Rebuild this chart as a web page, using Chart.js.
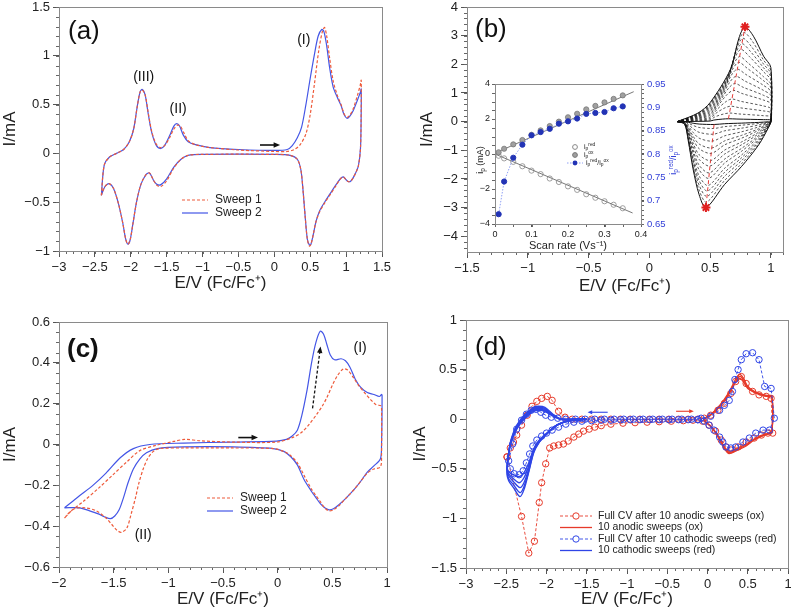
<!DOCTYPE html>
<html>
<head>
<meta charset="utf-8">
<script src="https://cdn.jsdelivr.net/npm/chart.js@4.4.1/dist/chart.umd.min.js"></script>
<style>
  html, body { margin: 0; padding: 0; background: #fff; width: 791px; height: 612px; overflow: hidden; position: relative; }
  canvas { position: absolute; }
</style>
</head>
<body>
<canvas id="pa"></canvas>
<canvas id="pb"></canvas>
<canvas id="pc"></canvas>
<canvas id="pd"></canvas>
<canvas id="pbi"></canvas>
<script>
// ---------- panel (a) ----------
const aTicksX = [-3, -2.5, -2, -1.5, -1, -0.5, 0, 0.5, 1, 1.5];
const aTicksY = [-1, -0.5, 0, 0.5, 1, 1.5];
const aLabels = ['Sweep 1', 'Sweep 2'];
const aSweep1 = [[-2.41,-0.43],[-2.37,-0.12],[-2.30,-0.04],[-2.20,0.0],[-2.10,0.04],[-2.02,0.12],[-1.96,0.25],[-1.91,0.48],[-1.87,0.63],[-1.84,0.65],[-1.80,0.60],[-1.76,0.43],[-1.71,0.23],[-1.65,0.10],[-1.59,0.06],[-1.53,0.08],[-1.46,0.16],[-1.40,0.25],[-1.35,0.29],[-1.31,0.28],[-1.26,0.21],[-1.20,0.13],[-1.10,0.09],[-0.90,0.06],[-0.50,0.035],[0.0,0.02],[0.18,0.02],[0.28,0.04],[0.36,0.09],[0.44,0.2],[0.50,0.4],[0.56,0.72],[0.62,1.06],[0.67,1.25],[0.70,1.29],[0.73,1.2],[0.77,0.98],[0.82,0.74],[0.88,0.59],[0.93,0.5],[0.97,0.41],[1.01,0.37],[1.05,0.39],[1.10,0.46],[1.16,0.6],[1.20,0.71],[1.21,0.75],[1.21,0.45],[1.20,0.05],[1.17,-0.13],[1.12,-0.22],[1.07,-0.28],[1.03,-0.29],[1.00,-0.27],[0.96,-0.24],[0.92,-0.26],[0.86,-0.33],[0.78,-0.42],[0.70,-0.51],[0.63,-0.60],[0.58,-0.70],[0.54,-0.84],[0.51,-0.93],[0.49,-0.95],[0.46,-0.88],[0.43,-0.65],[0.40,-0.38],[0.37,-0.17],[0.32,-0.06],[0.22,-0.02],[0.0,-0.01],[-1.00,-0.01],[-1.20,-0.02],[-1.30,-0.06],[-1.40,-0.15],[-1.50,-0.28],[-1.58,-0.34],[-1.63,-0.33],[-1.68,-0.28],[-1.74,-0.2],[-1.79,-0.22],[-1.86,-0.32],[-1.92,-0.5],[-1.97,-0.72],[-2.01,-0.89],[-2.04,-0.93],[-2.07,-0.88],[-2.11,-0.72],[-2.17,-0.52],[-2.24,-0.36],[-2.30,-0.31],[-2.35,-0.33],[-2.38,-0.37],[-2.41,-0.43]];
const aSweep2 = [[-2.41,-0.43],[-2.37,-0.12],[-2.30,-0.04],[-2.20,0.0],[-2.10,0.04],[-2.02,0.12],[-1.96,0.25],[-1.91,0.48],[-1.87,0.63],[-1.84,0.655],[-1.80,0.60],[-1.76,0.42],[-1.71,0.22],[-1.65,0.09],[-1.59,0.05],[-1.53,0.08],[-1.46,0.18],[-1.40,0.28],[-1.36,0.305],[-1.32,0.28],[-1.27,0.19],[-1.20,0.12],[-1.10,0.09],[-0.90,0.06],[-0.50,0.04],[0.0,0.03],[0.18,0.04],[0.25,0.08],[0.32,0.16],[0.38,0.27],[0.44,0.50],[0.50,0.77],[0.56,1.02],[0.61,1.2],[0.66,1.27],[0.69,1.25],[0.73,1.10],[0.77,0.88],[0.82,0.68],[0.88,0.57],[0.93,0.49],[0.97,0.40],[1.01,0.36],[1.05,0.38],[1.10,0.44],[1.16,0.55],[1.20,0.63],[1.21,0.66],[1.21,0.40],[1.20,0.05],[1.17,-0.13],[1.12,-0.22],[1.07,-0.28],[1.03,-0.29],[1.00,-0.27],[0.96,-0.24],[0.92,-0.26],[0.86,-0.32],[0.78,-0.41],[0.70,-0.5],[0.63,-0.59],[0.58,-0.70],[0.54,-0.84],[0.51,-0.93],[0.49,-0.94],[0.46,-0.88],[0.43,-0.65],[0.40,-0.38],[0.37,-0.17],[0.32,-0.06],[0.22,-0.02],[0.0,-0.01],[-1.00,-0.01],[-1.20,-0.02],[-1.30,-0.06],[-1.40,-0.14],[-1.50,-0.26],[-1.58,-0.32],[-1.63,-0.32],[-1.68,-0.28],[-1.74,-0.2],[-1.79,-0.22],[-1.86,-0.32],[-1.92,-0.5],[-1.97,-0.72],[-2.01,-0.89],[-2.04,-0.93],[-2.07,-0.88],[-2.11,-0.72],[-2.17,-0.52],[-2.24,-0.36],[-2.30,-0.31],[-2.35,-0.33],[-2.38,-0.37],[-2.41,-0.43]];

// ---------- panel (b): CVs at increasing scan rate ----------
const bTicksX = [-1.5, -1, -0.5, 0, 0.5, 1];
const bTicksY = [-4, -3, -2, -1, 0, 1, 2, 3, 4];
const bCv01 = [[0.23,0],[0.40,0.01],[0.50,0.02],[0.531,0.055],[0.601,0.088],[0.651,0.10],[0.721,0.09],[0.94,0.069],[1.0,0.057],[1.0,0],[0.98,-0.007],[0.90,-0.027],[0.76,-0.052],[0.62,-0.073],[0.533,-0.10],[0.41,-0.085],[0.36,-0.055],[0.32,-0.022],[0.29,-0.003],[0.23,0]];
const bCv02 = [[0.23,0],[0.40,0.027],[0.50,0.06],[0.54,0.165],[0.61,0.264],[0.66,0.30],[0.73,0.27],[0.94,0.207],[1.0,0.171],[1.0,0],[0.98,-0.017],[0.90,-0.065],[0.76,-0.125],[0.62,-0.175],[0.529,-0.24],[0.41,-0.204],[0.36,-0.132],[0.32,-0.053],[0.29,-0.007],[0.23,0]];
const bCv03 = [[0.23,0],[0.40,0.049],[0.50,0.108],[0.55,0.297],[0.62,0.475],[0.67,0.54],[0.74,0.486],[0.94,0.373],[1.0,0.308],[1.0,0],[0.98,-0.031],[0.90,-0.119],[0.76,-0.229],[0.62,-0.321],[0.525,-0.44],[0.41,-0.374],[0.36,-0.242],[0.32,-0.097],[0.29,-0.013],[0.23,0]];
const bCv04 = [[0.23,0],[0.40,0.071],[0.50,0.158],[0.56,0.435],[0.63,0.695],[0.68,0.79],[0.75,0.711],[0.94,0.545],[1.0,0.45],[1.0,0],[0.98,-0.048],[0.90,-0.184],[0.76,-0.354],[0.62,-0.496],[0.519,-0.68],[0.41,-0.578],[0.36,-0.374],[0.32,-0.15],[0.29,-0.02],[0.23,0]];
const bCv05 = [[0.23,0],[0.40,0.098],[0.50,0.218],[0.573,0.60],[0.643,0.959],[0.693,1.09],[0.763,0.981],[0.94,0.752],[1.0,0.621],[1.0,0],[0.98,-0.064],[0.90,-0.248],[0.76,-0.478],[0.62,-0.672],[0.514,-0.92],[0.41,-0.782],[0.36,-0.506],[0.32,-0.202],[0.29,-0.028],[0.23,0]];
const bCv06 = [[0.23,0],[0.40,0.12],[0.50,0.266],[0.583,0.732],[0.653,1.17],[0.703,1.33],[0.773,1.197],[0.94,0.918],[1.0,0.758],[1.0,0],[0.98,-0.078],[0.90,-0.30],[0.76,-0.577],[0.62,-0.81],[0.509,-1.11],[0.41,-0.944],[0.36,-0.611],[0.32,-0.244],[0.29,-0.033],[0.23,0]];
const bCv07 = [[0.23,0],[0.40,0.142],[0.50,0.316],[0.594,0.869],[0.664,1.39],[0.714,1.58],[0.784,1.422],[0.94,1.09],[1.0,0.90],[1.0,0],[0.98,-0.095],[0.90,-0.367],[0.76,-0.707],[0.62,-0.993],[0.504,-1.36],[0.41,-1.156],[0.36,-0.748],[0.32,-0.299],[0.29,-0.041],[0.23,0]];
const bCv08 = [[0.23,0],[0.40,0.165],[0.50,0.366],[0.604,1.007],[0.674,1.61],[0.724,1.83],[0.794,1.647],[0.94,1.263],[1.0,1.043],[1.0,0],[0.98,-0.109],[0.90,-0.419],[0.76,-0.806],[0.62,-1.132],[0.499,-1.55],[0.41,-1.318],[0.36,-0.853],[0.32,-0.341],[0.29,-0.047],[0.23,0]];
const bCv09 = [[0.23,0],[0.40,0.186],[0.50,0.414],[0.615,1.139],[0.685,1.822],[0.735,2.07],[0.805,1.863],[0.94,1.428],[1.0,1.18],[1.0,0],[0.98,-0.125],[0.90,-0.483],[0.76,-0.931],[0.62,-1.307],[0.494,-1.79],[0.41,-1.522],[0.36,-0.985],[0.32,-0.394],[0.29,-0.054],[0.23,0]];
const bCv10 = [[0.23,0],[0.40,0.204],[0.50,0.454],[0.623,1.249],[0.693,1.998],[0.743,2.27],[0.813,2.043],[0.94,1.566],[1.0,1.294],[1.0,0],[0.98,-0.139],[0.90,-0.535],[0.76,-1.03],[0.62,-1.445],[0.489,-1.98],[0.41,-1.683],[0.36,-1.089],[0.32,-0.436],[0.29,-0.059],[0.23,0]];
const bCv11 = [[0.23,0],[0.40,0.227],[0.50,0.504],[0.634,1.386],[0.704,2.218],[0.754,2.52],[0.824,2.268],[0.94,1.739],[1.0,1.436],[1.0,0],[0.98,-0.156],[0.90,-0.602],[0.76,-1.16],[0.62,-1.628],[0.484,-2.23],[0.41,-1.896],[0.36,-1.227],[0.32,-0.491],[0.29,-0.067],[0.23,0]];
const bCv12 = [[0.23,0],[0.40,0.245],[0.50,0.544],[0.642,1.496],[0.712,2.394],[0.762,2.72],[0.832,2.448],[0.94,1.877],[1.0,1.55],[1.0,0],[0.98,-0.169],[0.90,-0.653],[0.76,-1.258],[0.62,-1.767],[0.479,-2.42],[0.41,-2.057],[0.36,-1.331],[0.32,-0.532],[0.29,-0.073],[0.23,0]];
const bCv13 = [[0.23,0],[0.40,0.262],[0.50,0.582],[0.65,1.60],[0.72,2.561],[0.77,2.91],[0.84,2.619],[0.94,2.008],[1.0,1.659],[1.0,0],[0.98,-0.183],[0.90,-0.705],[0.76,-1.357],[0.62,-1.905],[0.475,-2.61],[0.41,-2.219],[0.36,-1.436],[0.32,-0.574],[0.29,-0.078],[0.23,0]];
const bCv14 = [[0.23,0],[0.40,0.28],[0.50,0.622],[0.659,1.711],[0.729,2.737],[0.779,3.11],[0.849,2.799],[0.94,2.146],[1.0,1.773],[1.0,0],[0.98,-0.197],[0.90,-0.759],[0.76,-1.461],[0.62,-2.051],[0.47,-2.81],[0.41,-2.389],[0.36,-1.546],[0.32,-0.618],[0.29,-0.084],[0.23,0]];
const bCv15 = [[0.23,0],[0.40,0.298],[0.50,0.662],[0.667,1.821],[0.737,2.913],[0.787,3.31],[0.857,2.979],[0.94,2.284],[1.0,1.887],[1.0,0],[0.98,-0.21],[0.90,-0.81],[0.76,-1.56],[0.62,-2.19],[0.466,-3.0],[0.41,-2.55],[0.36,-1.65],[0.32,-0.66],[0.29,-0.09],[0.23,0]];
const bPeakOx = [[0.651,0.10],[0.66,0.30],[0.67,0.54],[0.68,0.79],[0.693,1.09],[0.703,1.33],[0.714,1.58],[0.724,1.83],[0.735,2.07],[0.743,2.27],[0.754,2.52],[0.762,2.72],[0.77,2.91],[0.779,3.11],[0.787,3.31]];
const bPeakRed = [[0.533,-0.10],[0.529,-0.24],[0.525,-0.44],[0.519,-0.68],[0.514,-0.92],[0.509,-1.11],[0.504,-1.36],[0.499,-1.55],[0.494,-1.79],[0.489,-1.98],[0.484,-2.23],[0.479,-2.42],[0.475,-2.61],[0.47,-2.81],[0.466,-3.0]];
const bStars = [[0.787,3.31],[0.466,-3.0]];

// inset of (b): peak currents vs scan rate
const bScanRate = [0.01,0.025,0.05,0.075,0.1,0.125,0.15,0.175,0.2,0.225,0.25,0.275,0.3,0.325,0.35];
const bIpOx = [0.1,0.3,0.55,0.8,1.1,1.35,1.6,1.85,2.1,2.3,2.55,2.75,2.95,3.15,3.35];
const bIpRed = [-0.1,-0.25,-0.45,-0.7,-0.95,-1.15,-1.4,-1.6,-1.85,-2.05,-2.3,-2.5,-2.7,-2.9,-3.1];
const bRatio = [0.671,0.741,0.792,0.82,0.84,0.847,0.854,0.865,0.87,0.876,0.886,0.888,0.89,0.898,0.902];
const bFitOx = [[0,0.05],[0.38,3.56]];
const bFitRed = [[0,0],[0.377,-3.37]];
const biTicksX = [0, 0.1, 0.2, 0.3, 0.4];
const biTicksY = [-4, -2, 0, 2, 4];
const biTicksY2 = [0.65, 0.7, 0.75, 0.8, 0.85, 0.9, 0.95];

// ---------- panel (c) ----------
const cTicksX = [-2, -1.5, -1, -0.5, 0, 0.5, 1];
const cTicksY = [-0.6, -0.4, -0.2, 0, 0.2, 0.4, 0.6];
const cLabels = ['Sweep 1', 'Sweep 2'];
const cSweep1 = [[-1.95,-0.36],[-1.90,-0.33],[-1.78,-0.28],[-1.63,-0.21],[-1.51,-0.15],[-1.38,-0.085],[-1.26,-0.03],[-1.11,-0.004],[-0.95,0.015],[-0.85,0.025],[-0.70,0.018],[-0.41,0.012],[-0.01,0.012],[0.14,0.035],[0.22,0.06],[0.29,0.10],[0.36,0.15],[0.41,0.19],[0.45,0.23],[0.50,0.29],[0.55,0.34],[0.60,0.37],[0.64,0.365],[0.69,0.33],[0.74,0.29],[0.80,0.25],[0.85,0.22],[0.90,0.195],[0.945,0.19],[0.95,0.18],[0.95,-0.05],[0.94,-0.11],[0.88,-0.12],[0.82,-0.14],[0.76,-0.18],[0.70,-0.22],[0.63,-0.26],[0.56,-0.30],[0.51,-0.32],[0.47,-0.325],[0.43,-0.31],[0.39,-0.28],[0.35,-0.25],[0.31,-0.22],[0.24,-0.15],[0.18,-0.09],[0.12,-0.055],[0.06,-0.035],[-0.04,-0.02],[-0.41,-0.017],[-0.86,-0.017],[-1.08,-0.02],[-1.14,-0.035],[-1.19,-0.07],[-1.23,-0.12],[-1.27,-0.19],[-1.30,-0.26],[-1.34,-0.34],[-1.38,-0.41],[-1.43,-0.43],[-1.47,-0.42],[-1.52,-0.39],[-1.57,-0.36],[-1.66,-0.325],[-1.76,-0.31],[-1.86,-0.315],[-1.95,-0.36]];
const cSweep2 = [[-1.95,-0.31],[-1.88,-0.28],[-1.81,-0.25],[-1.69,-0.20],[-1.57,-0.14],[-1.44,-0.065],[-1.32,-0.02],[-1.17,0.0],[-0.86,0.007],[-0.41,0.012],[-0.01,0.017],[0.08,0.025],[0.13,0.04],[0.18,0.07],[0.22,0.14],[0.27,0.27],[0.31,0.40],[0.35,0.50],[0.39,0.555],[0.42,0.54],[0.45,0.49],[0.48,0.44],[0.52,0.415],[0.58,0.42],[0.62,0.41],[0.66,0.38],[0.71,0.32],[0.76,0.28],[0.82,0.255],[0.88,0.245],[0.93,0.235],[0.95,0.245],[0.955,0.24],[0.95,0.0],[0.94,-0.07],[0.88,-0.105],[0.82,-0.135],[0.76,-0.18],[0.70,-0.22],[0.63,-0.26],[0.56,-0.295],[0.51,-0.315],[0.47,-0.32],[0.43,-0.31],[0.39,-0.29],[0.35,-0.26],[0.31,-0.23],[0.24,-0.17],[0.18,-0.10],[0.12,-0.06],[0.06,-0.035],[-0.04,-0.02],[-0.41,-0.012],[-0.86,-0.012],[-1.10,-0.02],[-1.20,-0.04],[-1.26,-0.07],[-1.32,-0.12],[-1.37,-0.19],[-1.41,-0.26],[-1.45,-0.32],[-1.49,-0.35],[-1.53,-0.363],[-1.58,-0.355],[-1.64,-0.34],[-1.72,-0.325],[-1.81,-0.31],[-1.95,-0.31]];

// ---------- panel (d) ----------
const dTicksX = [-3, -2.5, -2, -1.5, -1, -0.5, 0, 0.5, 1];
const dTicksY = [-1.5, -1, -0.5, 0, 0.5, 1];
const dLabels = ['Full CV after 10 anodic sweeps (ox)', '10 anodic sweeps (ox)', 'Full CV after 10 cathodic sweeps (red)', '10 cathodic sweeps (red)'];
const dFullOx = [[-2.49,-0.38],[-2.45,-0.29],[-2.41,-0.23],[-2.37,-0.16],[-2.31,-0.06],[-2.24,0.04],[-2.18,0.13],[-2.12,0.18],[-2.06,0.21],[-1.99,0.23],[-1.93,0.19],[-1.85,0.08],[-1.77,0.02],[-1.68,0.0],[-1.56,0.0],[-1.44,0.0],[-1.32,0.0],[-1.2,0.0],[-1.08,0.0],[-0.96,0.0],[-0.84,0.0],[-0.72,0.0],[-0.6,0.0],[-0.48,0.0],[-0.36,0.0],[-0.24,0.0],[-0.12,0.0],[-0.04,0.01],[0.04,0.04],[0.13,0.09],[0.21,0.16],[0.29,0.26],[0.35,0.38],[0.42,0.43],[0.48,0.36],[0.56,0.28],[0.64,0.245],[0.73,0.23],[0.79,0.21],[0.81,-0.14],[0.75,-0.14],[0.67,-0.16],[0.58,-0.19],[0.48,-0.23],[0.38,-0.28],[0.29,-0.31],[0.23,-0.28],[0.17,-0.21],[0.10,-0.12],[0.02,-0.06],[-0.06,-0.02],[-0.18,-0.01],[-0.3,-0.015],[-0.45,-0.02],[-0.6,-0.025],[-0.75,-0.03],[-0.9,-0.035],[-1.05,-0.04],[-1.2,-0.05],[-1.32,-0.065],[-1.40,-0.08],[-1.47,-0.1],[-1.54,-0.12],[-1.60,-0.15],[-1.66,-0.18],[-1.73,-0.22],[-1.79,-0.25],[-1.85,-0.26],[-1.91,-0.27],[-1.96,-0.29],[-2.01,-0.45],[-2.06,-0.64],[-2.09,-0.84],[-2.15,-1.23],[-2.22,-1.35],[-2.31,-0.98],[-2.49,-0.38]];
const dFullRed = [[-0.12,-0.005],[-0.24,-0.005],[-0.36,-0.005],[-0.48,-0.005],[-0.6,-0.005],[-0.72,-0.005],[-0.84,-0.005],[-0.96,-0.005],[-1.08,-0.005],[-1.2,-0.01],[-1.32,-0.01],[-1.44,-0.015],[-1.56,-0.02],[-1.66,-0.03],[-1.76,-0.05],[-1.85,-0.08],[-1.93,-0.11],[-2.0,-0.14],[-2.06,-0.17],[-2.12,-0.21],[-2.17,-0.27],[-2.21,-0.35],[-2.25,-0.44],[-2.29,-0.52],[-2.34,-0.56],[-2.40,-0.55],[-2.45,-0.50],[-2.47,-0.42],[-2.42,-0.25],[-2.37,-0.1],[-2.31,-0.01],[-2.25,0.05],[-2.19,0.09],[-2.13,0.1],[-2.07,0.07],[-2.01,0.04],[-1.94,0.02],[-1.86,0.01],[-1.76,0.0],[-1.64,0.0],[-1.52,0.0],[-1.40,0.0],[-1.28,0.0],[-1.16,0.0],[-1.04,0.0],[-0.92,0.0],[-0.80,0.0],[-0.68,0.0],[-0.56,0.0],[-0.44,0.0],[-0.32,0.0],[-0.2,0.0],[-0.08,0.01],[0.04,0.03],[0.15,0.09],[0.21,0.14],[0.27,0.19],[0.31,0.28],[0.34,0.40],[0.38,0.50],[0.42,0.60],[0.48,0.66],[0.56,0.67],[0.64,0.60],[0.71,0.33],[0.79,0.31],[0.83,0.01],[0.77,-0.11],[0.69,-0.11],[0.60,-0.14],[0.52,-0.19],[0.44,-0.23],[0.35,-0.28],[0.29,-0.29],[0.23,-0.28],[0.19,-0.23],[0.15,-0.18],[0.08,-0.11],[0.02,-0.06],[-0.04,-0.02],[-0.12,-0.005]];
const dAnodic1 = [[-0.05,0.0],[0.05,0.05],[0.12,0.1],[0.2,0.17],[0.28,0.27],[0.34,0.36],[0.38,0.40],[0.41,0.41],[0.45,0.37],[0.5,0.31],[0.58,0.27],[0.66,0.245],[0.74,0.23],[0.80,0.22],[0.80,-0.12],[0.76,-0.14],[0.68,-0.16],[0.58,-0.2],[0.48,-0.25],[0.38,-0.29],[0.3,-0.32],[0.26,-0.32],[0.22,-0.29],[0.17,-0.22],[0.11,-0.14],[0.04,-0.07],[-0.02,-0.03],[-0.05,0.0]];
const dAnodic2 = [[-0.05,0.0],[0.05,0.05],[0.12,0.1],[0.2,0.18],[0.28,0.28],[0.34,0.37],[0.38,0.42],[0.41,0.43],[0.45,0.39],[0.5,0.32],[0.58,0.275],[0.66,0.25],[0.74,0.235],[0.80,0.225],[0.80,-0.13],[0.76,-0.145],[0.68,-0.165],[0.58,-0.205],[0.48,-0.26],[0.38,-0.30],[0.3,-0.33],[0.26,-0.335],[0.22,-0.30],[0.17,-0.23],[0.11,-0.145],[0.04,-0.07],[-0.02,-0.03],[-0.05,0.0]];
const dAnodic3 = [[-0.05,0.0],[0.05,0.055],[0.12,0.11],[0.2,0.19],[0.28,0.29],[0.34,0.39],[0.38,0.44],[0.41,0.45],[0.45,0.41],[0.5,0.33],[0.58,0.28],[0.66,0.255],[0.74,0.24],[0.80,0.23],[0.80,-0.14],[0.76,-0.15],[0.68,-0.17],[0.58,-0.21],[0.48,-0.27],[0.38,-0.31],[0.3,-0.34],[0.26,-0.345],[0.22,-0.31],[0.17,-0.24],[0.11,-0.15],[0.04,-0.075],[-0.02,-0.03],[-0.05,0.0]];
const dCathodic1 = [[-1.5,0.0],[-1.65,-0.01],[-1.77,-0.025],[-1.89,-0.07],[-2.01,-0.15],[-2.10,-0.22],[-2.16,-0.30],[-2.22,-0.44],[-2.28,-0.54],[-2.34,-0.58],[-2.41,-0.56],[-2.47,-0.53],[-2.49,-0.48],[-2.46,-0.30],[-2.40,-0.15],[-2.32,-0.04],[-2.24,0.03],[-2.16,0.08],[-2.10,0.09],[-2.02,0.08],[-1.92,0.03],[-1.82,0.0],[-1.65,0.0],[-1.5,0.0]];
const dCathodic2 = [[-1.5,0.0],[-1.65,-0.01],[-1.77,-0.025],[-1.89,-0.07],[-2.01,-0.155],[-2.10,-0.23],[-2.16,-0.31],[-2.22,-0.47],[-2.28,-0.59],[-2.34,-0.64],[-2.41,-0.60],[-2.47,-0.55],[-2.49,-0.50],[-2.46,-0.30],[-2.40,-0.14],[-2.32,-0.03],[-2.24,0.04],[-2.16,0.09],[-2.10,0.10],[-2.02,0.09],[-1.92,0.035],[-1.82,0.0],[-1.65,0.0],[-1.5,0.0]];
const dCathodic3 = [[-1.5,0.0],[-1.65,-0.01],[-1.77,-0.025],[-1.89,-0.07],[-2.01,-0.16],[-2.10,-0.235],[-2.16,-0.32],[-2.22,-0.50],[-2.28,-0.64],[-2.33,-0.69],[-2.41,-0.63],[-2.47,-0.57],[-2.49,-0.51],[-2.46,-0.29],[-2.40,-0.13],[-2.32,-0.02],[-2.24,0.05],[-2.16,0.10],[-2.10,0.11],[-2.02,0.10],[-1.92,0.04],[-1.82,0.0],[-1.65,0.0],[-1.5,0.0]];
const dCathodic4 = [[-1.5,0.0],[-1.65,-0.01],[-1.77,-0.025],[-1.89,-0.07],[-2.01,-0.16],[-2.10,-0.24],[-2.16,-0.33],[-2.22,-0.52],[-2.28,-0.68],[-2.33,-0.74],[-2.41,-0.66],[-2.47,-0.60],[-2.49,-0.53],[-2.46,-0.29],[-2.40,-0.12],[-2.32,-0.01],[-2.24,0.06],[-2.16,0.11],[-2.10,0.12],[-2.02,0.11],[-1.92,0.045],[-1.82,0.0],[-1.65,0.0],[-1.5,0.0]];
const dCathodic5 = [[-1.5,0.0],[-1.65,-0.01],[-1.77,-0.025],[-1.89,-0.07],[-2.01,-0.16],[-2.10,-0.245],[-2.16,-0.34],[-2.22,-0.53],[-2.28,-0.71],[-2.33,-0.78],[-2.41,-0.69],[-2.47,-0.62],[-2.49,-0.55],[-2.46,-0.28],[-2.40,-0.11],[-2.32,0.0],[-2.24,0.07],[-2.16,0.12],[-2.10,0.13],[-2.02,0.12],[-1.92,0.05],[-1.82,0.0],[-1.65,0.0],[-1.5,0.0]];

// ---------- helpers ----------
const FONT = '"Liberation Sans", Arial, Helvetica, sans-serif';
const RED = '#ee5a3a', BLUE = '#4456e6', DRED = '#e63a2a', DBLUE = '#2f45e6';
const pts = a => a.map(([x, y]) => ({ x, y }));
const fmt = v => (v < 0 ? '\u2212' : '') + Math.abs(+v.toFixed(3));

function line(arr, color, extra) {
  return Object.assign({
    data: pts(arr), showLine: true, borderColor: color, backgroundColor: color,
    borderWidth: 1.2, pointRadius: 0, tension: 0.3, fill: false
  }, extra || {});
}

function circles(arr, color) {
  return line(arr, color, {
    borderWidth: 0.9, borderDash: [3, 2], tension: 0,
    pointRadius: 3.2, pointBackgroundColor: 'rgba(255,255,255,0)',
    pointBorderColor: color, pointBorderWidth: 1
  });
}

function axis(o) {
  return {
    type: 'linear', position: o.pos, min: o.min, max: o.max,
    afterBuildTicks: s => { s.ticks = o.ticks.map(v => ({ value: v })); },
    afterFit: s => { if (s.isHorizontal()) s.height = o.size; else s.width = o.size; },
    grid: { drawOnChartArea: false, drawTicks: true, tickLength: o.tl || 6, tickColor: '#555', tickWidth: 1 },
    border: { display: true, color: '#888', width: 1 },
    ticks: {
      color: o.color || '#222', font: { family: FONT, size: o.fs || 13 }, padding: o.pad == null ? 3 : o.pad,
      maxRotation: 0, autoSkip: false, callback: v => fmt(v)
    },
    title: {
      display: !!o.title, text: o.title, color: '#222',
      font: { family: FONT, size: o.tfs || 17 }, padding: { top: o.tp || 0, bottom: o.tp || 0 }
    }
  };
}

// short minor ticks between the labelled ones
function minorTicks(steps) {
  return {
    id: 'minorTicks',
    afterDraw(chart) {
      const ctx = chart.ctx;
      ctx.save();
      ctx.strokeStyle = '#666';
      ctx.lineWidth = 1;
      for (const id in steps) {
        const s = chart.scales[id], st = steps[id];
        const n0 = Math.ceil(s.min / st - 1e-6), n1 = Math.floor(s.max / st + 1e-6);
        for (let n = n0; n <= n1; n++) {
          const p = Math.round(s.getPixelForValue(n * st)) + 0.5;
          ctx.beginPath();
          if (s.position === 'bottom') { ctx.moveTo(p, s.top); ctx.lineTo(p, s.top + 3); }
          else if (s.position === 'left') { ctx.moveTo(s.right, p); ctx.lineTo(s.right - 3, p); }
          else { ctx.moveTo(s.left, p); ctx.lineTo(s.left + 3, p); }
          ctx.stroke();
        }
      }
      ctx.restore();
    }
  };
}

function drawRich(ctx, parts, x, y, size, color, align, rot, bold) {
  ctx.save();
  ctx.translate(x, y);
  if (rot) ctx.rotate(rot);
  ctx.fillStyle = color;
  ctx.textBaseline = 'middle';
  ctx.textAlign = 'left';
  const fontOf = k => (bold ? 'bold ' : '') + (k === 'n' ? size : size * 0.7) + 'px ' + FONT;
  let w = 0;
  parts.forEach(([t, k]) => { ctx.font = fontOf(k); w += ctx.measureText(t).width; });
  let cx = align === 'left' ? 0 : -w / 2;
  parts.forEach(([t, k]) => {
    ctx.font = fontOf(k);
    const dy = k === 'sub' ? size * 0.3 : (k === 'sup' ? -size * 0.35 : 0);
    ctx.fillText(t, cx, dy);
    cx += ctx.measureText(t).width;
  });
  ctx.restore();
}

// frame, arrows, labels and hand-placed legends
function marks(spec) {
  return {
    id: 'marks',
    afterDraw(chart) {
      const { ctx, chartArea: ca, scales } = chart;
      const xs = scales.x, ys = scales.y;
      const P = p => p.data ? [xs.getPixelForValue(p.data[0]), ys.getPixelForValue(p.data[1])]
                            : [ca.left + p.at[0], ca.top + p.at[1]];
      ctx.save();
      ctx.strokeStyle = '#8a8a8a';
      ctx.lineWidth = 1;
      ctx.strokeRect(Math.round(ca.left) + 0.5, Math.round(ca.top) + 0.5,
                     Math.round(ca.right - ca.left), Math.round(ca.bottom - ca.top));
      (spec.arrows || []).forEach(a => {
        const [x0, y0] = P({ data: a.from }), [x1, y1] = P({ data: a.to });
        const ang = Math.atan2(y1 - y0, x1 - x0), h = a.head || 7;
        ctx.strokeStyle = a.color; ctx.fillStyle = a.color; ctx.lineWidth = a.width || 1.4;
        ctx.setLineDash(a.dash || []);
        ctx.beginPath(); ctx.moveTo(x0, y0);
        ctx.lineTo(x1 - h * 0.8 * Math.cos(ang), y1 - h * 0.8 * Math.sin(ang)); ctx.stroke();
        ctx.setLineDash([]);
        ctx.beginPath(); ctx.moveTo(x1, y1);
        ctx.lineTo(x1 - h * Math.cos(ang - 0.4), y1 - h * Math.sin(ang - 0.4));
        ctx.lineTo(x1 - h * Math.cos(ang + 0.4), y1 - h * Math.sin(ang + 0.4));
        ctx.closePath(); ctx.fill();
      });
      (spec.legend || []).forEach(l => {
        const [x, y] = P(l);
        ctx.strokeStyle = l.color; ctx.lineWidth = l.width || 1.2;
        ctx.setLineDash(l.dash || []);
        ctx.beginPath(); ctx.moveTo(x, y); ctx.lineTo(x + l.len, y); ctx.stroke();
        ctx.setLineDash([]);
        if (l.marker) {
          ctx.beginPath(); ctx.arc(x + l.len / 2, y, l.r || 3.2, 0, Math.PI * 2);
          ctx.fillStyle = l.fill || '#fff'; ctx.fill(); ctx.lineWidth = 1; ctx.stroke();
        }
        drawRich(ctx, l.parts || [[l.text, 'n']], x + l.len + (l.gap || 7), y, l.size, '#222', 'left');
      });
      (spec.texts || []).forEach(t => {
        const [x, y] = P(t);
        drawRich(ctx, t.parts || [[t.text, 'n']], x, y, t.size || 14, t.color || '#111',
                 t.align || 'center', t.rot || 0, t.bold);
      });
      ctx.restore();
    }
  };
}

function makeChart(id, box, datasets, scales, steps, spec) {
  const cv = document.getElementById(id);
  cv.width = box.w; cv.height = box.h;
  cv.style.left = box.l + 'px'; cv.style.top = box.t + 'px';
  return new Chart(cv, {
    type: 'scatter',
    data: { datasets },
    options: {
      responsive: false, animation: false, events: [],
      layout: { padding: { top: box.pt, right: box.pr, left: 0, bottom: 0 } },
      scales,
      plugins: { legend: { display: false }, tooltip: { enabled: false } }
    },
    plugins: [minorTicks(steps), marks(spec)]
  });
}

const EV = 'E/V (Fc/Fc\u207A)';

// ---------- (a) ----------
makeChart('pa', { l: 0, t: -13, w: 402, h: 313, pt: 20, pr: 20 },
  [line(aSweep1, RED, { borderDash: [3, 2] }), line(aSweep2, BLUE)],
  {
    x: axis({ pos: 'bottom', min: -3, max: 1.5, ticks: aTicksX, size: 49, title: EV, tp: 6 }),
    y: axis({ pos: 'left', min: -1, max: 1.5, ticks: aTicksY, size: 59, title: 'I/mA', tp: 0 })
  },
  { x: 0.1, y: 0.1 },
  {
    arrows: [{ from: [-0.2, 0.086], to: [0.08, 0.086], color: '#111', width: 1.6 }],
    legend: [
      { at: [123, 193], len: 26, color: RED, dash: [3, 2], text: aLabels[0], size: 12 },
      { at: [123, 206], len: 26, color: BLUE, text: aLabels[1], size: 12 }
    ],
    texts: [
      { data: [-1.82, 0.78], text: '(III)' },
      { data: [-1.34, 0.455], text: '(II)' },
      { data: [0.41, 1.16], text: '(I)' },
      { at: [9, 25], text: '(a)', size: 26, align: 'left' }
    ]
  });

// ---------- (b) ----------
const bLoops = [bCv01, bCv02, bCv03, bCv04, bCv05, bCv06, bCv07, bCv08, bCv09, bCv10, bCv11, bCv12, bCv13, bCv14, bCv15];
const bSets = [
  { data: pts(bStars), showLine: false, pointStyle: 'star', pointRadius: 4.5, pointBorderColor: '#e02020', pointBorderWidth: 2 },
  line(bPeakOx, '#e53935', { borderDash: [4, 3], borderWidth: 1, tension: 0 }),
  line(bPeakRed, '#e53935', { borderDash: [4, 3], borderWidth: 1, tension: 0 })
];
bLoops.forEach((lp, i) => {
  const solid = i === 0 || i === bLoops.length - 1;
  bSets.push(line(lp, '#111', { borderWidth: solid ? 1 : 0.7, borderDash: solid ? [] : [2.5, 2], tension: 0.3 }));
});
makeChart('pb', { l: 410, t: -13, w: 393, h: 313, pt: 20, pr: 20 }, bSets,
  {
    x: axis({ pos: 'bottom', min: -1.5, max: 1.1, ticks: bTicksX, size: 48, title: EV, tp: 3 }),
    y: axis({ pos: 'left', min: -4.55, max: 4, ticks: bTicksY, size: 57, title: 'I/mA', tp: 7 })
  },
  { x: 0.1, y: 0.2 },
  { texts: [{ at: [8, 23], text: '(b)', size: 26, align: 'left' }] });

// inset
const cvI = document.getElementById('pbi');
cvI.width = 230; cvI.height = 190;
cvI.style.left = '460px'; cvI.style.top = '70px';
const insetX = axis({ pos: 'bottom', min: 0, max: 0.4, ticks: biTicksX, size: 36, title: 'Scan rate (Vs\u207B\u00B9)', tfs: 11, tp: 7, fs: 9, tl: 3, pad: 2 });
const insetY = axis({ pos: 'left', min: -4, max: 4, ticks: biTicksY, size: 35, fs: 9, tl: 3, pad: 2 });
const insetY2 = axis({ pos: 'right', min: 0.65, max: 0.95, ticks: biTicksY2, size: 49, fs: 9.5, tl: 3, pad: 3, color: '#3340d8' });
insetY2.border.color = '#888';
new Chart(cvI, {
  type: 'scatter',
  data: {
    datasets: [
      { data: bScanRate.map((v, i) => ({ x: v, y: bRatio[i] })), yAxisID: 'y2', showLine: true,
        borderColor: '#8fa0f5', borderDash: [1.5, 1.5], borderWidth: 1, tension: 0,
        pointRadius: 2.6, pointBackgroundColor: '#2233b5', pointBorderColor: '#2233b5' },
      { data: bScanRate.map((v, i) => ({ x: v, y: bIpOx[i] })), showLine: false,
        pointRadius: 2.6, pointBackgroundColor: '#a0a0a0', pointBorderColor: '#777', pointBorderWidth: 0.8 },
      { data: bScanRate.map((v, i) => ({ x: v, y: bIpRed[i] })), showLine: false,
        pointRadius: 2.6, pointBackgroundColor: 'rgba(255,255,255,0)', pointBorderColor: '#888', pointBorderWidth: 0.8 },
      line(bFitOx, '#555', { borderWidth: 0.8, tension: 0 }),
      line(bFitRed, '#555', { borderWidth: 0.8, tension: 0 })
    ]
  },
  options: {
    responsive: false, animation: false, events: [],
    layout: { padding: { top: 14, right: 0, left: 0, bottom: 0 } },
    scales: { x: insetX, y: insetY, y2: insetY2 },
    plugins: { legend: { display: false }, tooltip: { enabled: false } }
  },
  plugins: [minorTicks({ x: 0.05, y: 0.5, y2: 0.01 }), marks({
    legend: [
      { at: [76, 63], len: 8, color: '#888', marker: true, r: 2.4, parts: [['i', 'n'], ['p', 'sub'], ['red', 'sup']], size: 7, gap: 5, width: 0.01 },
      { at: [76, 71], len: 8, color: '#777', marker: true, r: 2.4, fill: '#a0a0a0', parts: [['i', 'n'], ['p', 'sub'], ['ox', 'sup']], size: 7, gap: 5, width: 0.01 },
      { at: [72, 79], len: 16, color: '#8fa0f5', dash: [1.5, 1.5], width: 1, parts: [['i', 'n'], ['p', 'sub'], ['red', 'sup'], ['/i', 'n'], ['p', 'sub'], ['ox', 'sup']], size: 7, gap: 3 }
    ],
    texts: [
      { at: [-14, 76], parts: [['i', 'n'], ['p', 'sub'], [' (mA)', 'n']], size: 9, rot: -Math.PI / 2, color: '#222' },
      { at: [179, 76], parts: [['i', 'n'], ['p', 'sub'], ['red', 'sup'], ['/i', 'n'], ['p', 'sub'], ['ox', 'sup']], size: 9, rot: -Math.PI / 2, color: '#3340d8' }
    ]
  }), {
    id: 'ratioDot',
    afterDraw(chart) {
      const { ctx, chartArea: ca } = chart;
      ctx.save(); ctx.fillStyle = '#2233b5';
      ctx.beginPath(); ctx.arc(ca.left + 80, ca.top + 79, 2.4, 0, Math.PI * 2); ctx.fill();
      ctx.restore();
    }
  }]
});

// ---------- (c) ----------
makeChart('pc', { l: 0, t: 300, w: 407, h: 312, pt: 22, pr: 20 },
  [line(cSweep1, RED, { borderDash: [3, 2] }), line(cSweep2, BLUE)],
  {
    x: axis({ pos: 'bottom', min: -2, max: 1, ticks: cTicksX, size: 45, title: EV, tp: 2 }),
    y: axis({ pos: 'left', min: -0.6, max: 0.6, ticks: cTicksY, size: 59, title: 'I/mA', tp: 0 })
  },
  { x: 0.1, y: 0.05 },
  {
    arrows: [
      { from: [-0.36, 0.034], to: [-0.18, 0.034], color: '#111', width: 1.6 },
      { from: [0.319, 0.177], to: [0.392, 0.48], color: '#111', width: 1.3, dash: [3, 2] }
    ],
    legend: [
      { at: [148, 176], len: 26, color: RED, dash: [3, 2], text: cLabels[0], size: 12 },
      { at: [148, 189], len: 26, color: BLUE, text: cLabels[1], size: 12 }
    ],
    texts: [
      { data: [0.754, 0.471], text: '(I)' },
      { data: [-1.23, -0.445], text: '(II)' },
      { at: [8, 28], text: '(c)', size: 26, align: 'left', bold: true }
    ]
  });

// ---------- (d) ----------
const dSets = [
  line(dCathodic5, DBLUE, { borderWidth: 1.4 }),
  line(dCathodic4, DBLUE, { borderWidth: 1.4 }),
  line(dCathodic3, DBLUE, { borderWidth: 1.4 }),
  line(dCathodic2, DBLUE, { borderWidth: 1.4 }),
  line(dCathodic1, DBLUE, { borderWidth: 1.4 }),
  circles(dFullRed, DBLUE),
  line(dAnodic3, DRED, { borderWidth: 1.3 }),
  line(dAnodic2, DRED, { borderWidth: 1.3 }),
  line(dAnodic1, DRED, { borderWidth: 1.3 }),
  circles(dFullOx, DRED)
];
makeChart('pd', { l: 410, t: 300, w: 398, h: 312, pt: 20, pr: 20 }, dSets,
  {
    x: axis({ pos: 'bottom', min: -3, max: 1, ticks: dTicksX, size: 44, title: EV, tp: 2 }),
    y: axis({ pos: 'left', min: -1.5, max: 1, ticks: dTicksY, size: 56, title: 'I/mA', tp: 0 })
  },
  { x: 0.1, y: 0.1 },
  {
    arrows: [
      { from: [-0.39, 0.08], to: [-0.17, 0.08], color: DRED, width: 1.1, head: 5 },
      { from: [-1.24, 0.07], to: [-1.49, 0.07], color: DBLUE, width: 1.1, head: 5 }
    ],
    legend: [
      { at: [94, 196], len: 32, color: DRED, dash: [3, 2], marker: true, text: dLabels[0], size: 10.5, gap: 6, width: 0.9 },
      { at: [94, 207.5], len: 32, color: DRED, text: dLabels[1], size: 10.5, gap: 6, width: 1.3 },
      { at: [94, 219], len: 32, color: DBLUE, dash: [3, 2], marker: true, text: dLabels[2], size: 10.5, gap: 6, width: 0.9 },
      { at: [94, 230.5], len: 32, color: DBLUE, text: dLabels[3], size: 10.5, gap: 6, width: 1.3 }
    ],
    texts: [{ at: [9, 28], text: '(d)', size: 26, align: 'left' }]
  });
</script>
</body>
</html>
